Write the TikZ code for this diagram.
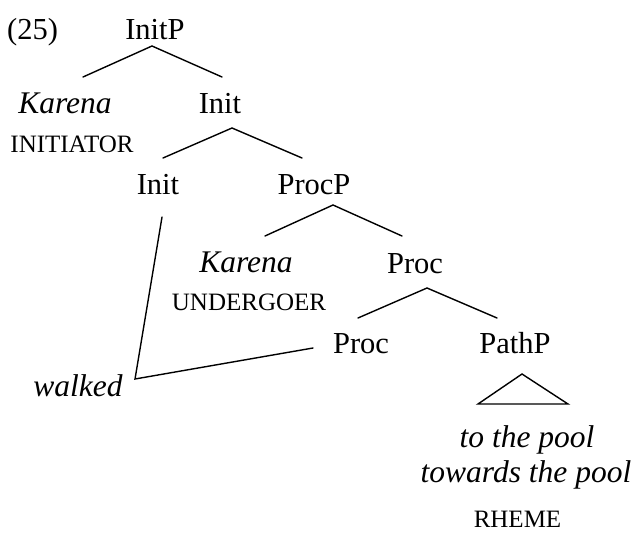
\documentclass[tikz,border=0pt]{standalone}
\usepackage{fontspec}
\setmainfont{Liberation Serif}
\begin{document}
\begin{tikzpicture}[x=1pt,y=-1pt,
  lbl/.style={inner sep=0pt,anchor=base,font=\fontsize{30.5}{36}\selectfont},
  word/.style={inner sep=0pt,anchor=base,font=\fontsize{31.5}{37}\selectfont\itshape},
  role/.style={inner sep=0pt,anchor=base,font=\fontsize{25}{29}\selectfont},
  branch/.style={line width=1.4pt,line cap=round,line join=miter}]
\useasboundingbox (0,0) rectangle (638,533);

% example number and tree labels
\node[lbl,anchor=base west] (num) at (7,39) {(25)};
\node[lbl] (InitP) at (155,39) {InitP};
\node[word] (KarA) at (65,113) {Karena};
\node[role] (initiator) at (72,152) {INITIATOR};
\node[lbl] (InitA) at (220,113) {Init};
\node[lbl] (InitB) at (158,194) {Init};
\node[lbl] (ProcP) at (314,194) {ProcP};
\node[word] (KarB) at (246,272) {Karena};
\node[role] (undergoer) at (249,310) {UNDERGOER};
\node[lbl] (ProcA) at (415,273) {Proc};
\node[lbl] (ProcB) at (361,353) {Proc};
\node[lbl] (PathP) at (515,353) {PathP};
\node[word] (walked) at (78,396) {walked};
\node[word] (pool) at (527,447) {to the pool};
\node[word] (towards) at (526,482) {towards the pool};
\node[role] (rheme) at (517.5,527) {RHEME};

% branches
\draw[branch] ([shift={(18,-36)}]KarA.base) -- ([shift={(-3,7)}]InitP.base) -- ([shift={(2,-36)}]InitA.base);
\draw[branch] ([shift={(5,-36)}]InitB.base) -- ([shift={(12,15)}]InitA.base) -- ([shift={(-12,-36)}]ProcP.base);
\draw[branch] ([shift={(19,-36)}]KarB.base) -- ([shift={(19,11)}]ProcP.base) -- ([shift={(-13,-37)}]ProcA.base);
\draw[branch] ([shift={(-3,-35)}]ProcB.base) -- ([shift={(12,15)}]ProcA.base) -- ([shift={(-18,-35)}]PathP.base);

% head movement lines meeting at the verb
\draw[branch] ([shift={(4,23)}]InitB.base) -- ([shift={(57,-17)}]walked.base) -- ([shift={(-48,-5)}]ProcB.base);

% triangle over the PathP content
\draw[branch] ([shift={(7,21)}]PathP.base) -- ([shift={(-37,51)}]PathP.base) -- ([shift={(53,51)}]PathP.base) -- cycle;
\end{tikzpicture}
\end{document}
